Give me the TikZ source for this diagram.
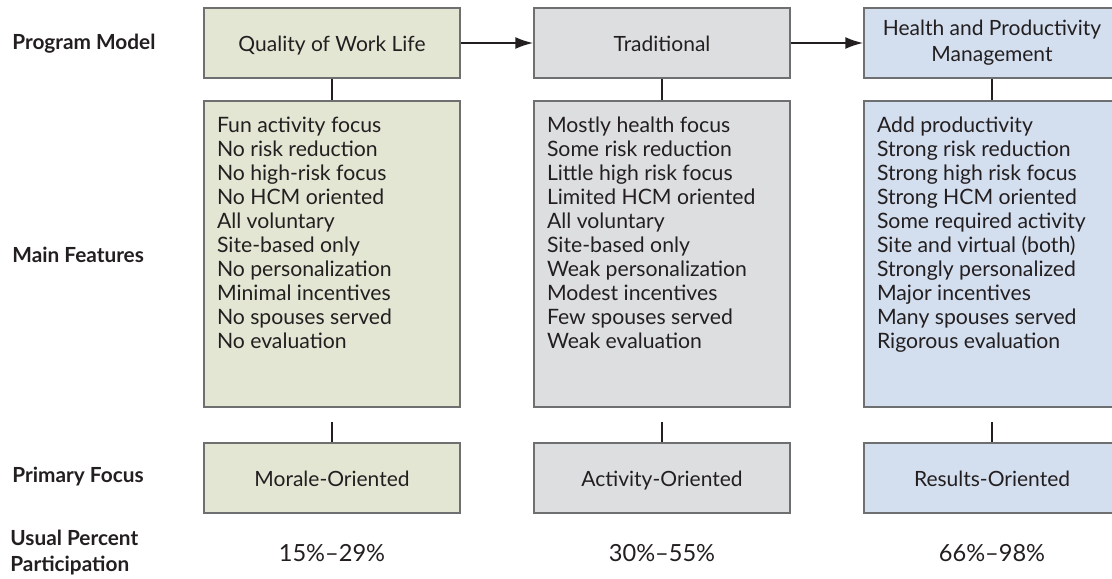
\documentclass[tikz,border=0pt]{standalone}
\usepackage{fontspec}
\setmainfont{Lato}
\usetikzlibrary{arrows.meta}
\definecolor{qwlgreen}{RGB}{227,230,211}
\definecolor{tradgrey}{RGB}{221,222,224}
\definecolor{hpmblue}{RGB}{211,222,239}
\definecolor{boxline}{RGB}{110,111,113}
\definecolor{inktext}{RGB}{35,31,32}
\newcommand{\featlist}[1]{\begin{minipage}[c][137pt][t]{115pt}#1\end{minipage}}
\begin{document}
\begin{tikzpicture}[x=0.5pt,y=-0.5pt,
    modelbox/.style={draw=boxline, line width=0.75pt, minimum width=128pt, minimum height=35pt, align=center, inner sep=2pt, text=inktext, font=\fontsize{10.5}{13}\selectfont},
    onebox/.style={modelbox, text height=10pt, text depth=2pt},
    featbox/.style={draw=boxline, line width=0.75pt, inner xsep=6.5pt, inner ysep=8pt, text=inktext, font=\fontsize{10.6}{12}\selectfont},
    rowlabel/.style={anchor=west, align=left, inner sep=0pt, text=inktext, font=\bfseries\fontsize{10.4}{13}\selectfont},
    percent/.style={text=inktext, font=\fontsize{11.8}{13}\selectfont},
    link/.style={draw=inktext, line width=1pt},
    flow/.style={link, -{Latex[length=9pt,width=6pt]}}]
      \useasboundingbox (0,0) rectangle (1112,578);
      \clip (0,0) rectangle (1112,578);
      % row labels
      \node[rowlabel] (lmodel) at (12,44) {Program Model};
      \node[rowlabel] (lfeat) at (12,255) {Main Features};
      \node[rowlabel] (lfocus) at (12,477) {Primary Focus};
      \node[rowlabel] (lpart) at (10,553) {Usual Percent\\Participation};
      % program models
      \node[onebox, fill=qwlgreen] (m1) at (332,43) {Quality of Work Life};
      \node[onebox, fill=tradgrey] (m2) at (662,43) {Traditional};
      \node[modelbox, fill=hpmblue] (m3) at (992,43) {Health and Productivity\\Management};
      % main features
      \node[featbox, fill=qwlgreen] (f1) at (332,254) {\featlist{Fun activity focus\\No risk reduction\\No high-risk focus\\No HCM oriented\\All voluntary\\Site-based only\\No personalization\\Minimal incentives\\No spouses served\\No evaluation}};
      \node[featbox, fill=tradgrey] (f2) at (662,254) {\featlist{Mostly health focus\\Some risk reduction\\Little high risk focus\\Limited HCM oriented\\All voluntary\\Site-based only\\Weak personalization\\Modest incentives\\Few spouses served\\Weak evaluation}};
      \node[featbox, fill=hpmblue] (f3) at (992,254) {\featlist{Add productivity\\Strong risk reduction\\Strong high risk focus\\Strong HCM oriented\\Some required activity\\Site and virtual (both)\\Strongly personalized\\Major incentives\\Many spouses served\\Rigorous evaluation}};
      % primary focus
      \node[onebox, fill=qwlgreen] (p1) at (332,478) {Morale-Oriented};
      \node[onebox, fill=tradgrey] (p2) at (662,478) {Activity-Oriented};
      \node[onebox, fill=hpmblue] (p3) at (992,478) {Results-Oriented};
      % participation
      \node[percent] (u1) at (332,553) {15\%–29\%};
      \node[percent] (u2) at (662,553) {30\%–55\%};
      \node[percent] (u3) at (992,553) {66\%–98\%};
      % connectors
      \draw[flow] (m1) -- (m2);
      \draw[flow] (m2) -- (m3);
      \draw[link] (m1) -- (f1);
      \draw[link] (m2) -- (f2);
      \draw[link] (m3) -- (f3);
      \draw[link] ([yshift=-7pt]f1.south) -- (p1);
      \draw[link] ([yshift=-7pt]f2.south) -- (p2);
      \draw[link] ([yshift=-7pt]f3.south) -- (p3);
\end{tikzpicture}
\end{document}
